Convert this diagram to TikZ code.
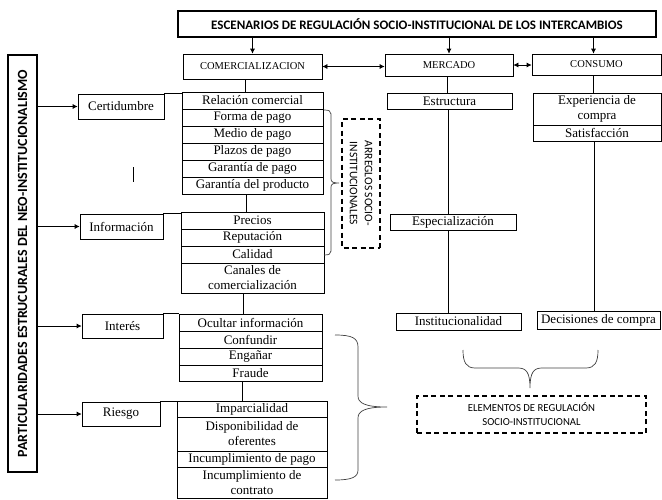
\documentclass[tikz,border=0pt]{standalone}
\usepackage{fontspec}
\setmainfont{Liberation Serif}
\newfontfamily\calibri{Carlito}
\usetikzlibrary{arrows.meta}

\tikzset{
  cell/.style={draw,inner sep=0pt,align=center,font=\fontsize{13}{15}\selectfont},
  stage/.style={draw,inner sep=0pt,font=\fontsize{10.5}{12}\selectfont},
  frame/.style={draw,line width=1.4pt,inner sep=0pt,font=\calibri\bfseries},
  dashbox/.style={draw,line width=1.4pt,dash pattern=on 5pt off 3.5pt,inner sep=0pt,align=center},
  brc/.style={draw=black!75}
}

\begin{document}
\begin{tikzpicture}[x=1pt,y=-1pt,line width=0.7pt,>={Latex[length=5pt,width=5pt]}]

        \useasboundingbox (0,0) rectangle (662,499);

        \begin{scope}[every node/.style={frame}]
          \node[minimum width=478pt,minimum height=26pt,font=\calibri\bfseries\fontsize{13}{15}\selectfont] (esc) at (417,24) {ESCENARIOS DE REGULACIÓN SOCIO-INSTITUCIONAL DE LOS INTERCAMBIOS};
          \node[rotate=90,minimum width=417pt,minimum height=29pt,font=\calibri\bfseries\fontsize{14}{16}\selectfont] (par) at (22.5,263.5) {PARTICULARIDADES ESTRUCURALES DEL NEO-INSTITUCIONALISMO};
        \end{scope}

        \begin{scope}[every node/.style={stage}]
          \node[minimum width=139pt,minimum height=25pt] (com) at (252.5,66.5) {COMERCIALIZACION};
          \node[minimum width=128pt,minimum height=22pt] (mer) at (449,65)     {MERCADO};
          \node[minimum width=129pt,minimum height=21pt] (con) at (596.5,64.5) {CONSUMO};
        \end{scope}

        \begin{scope}[every node/.style={cell}]
          \node[minimum width=86pt,minimum height=25pt] (cer) at (121,106.5)   {Certidumbre};
          \node[minimum width=83pt,minimum height=25pt] (inf) at (121.5,226.5) {Información};
          \node[minimum width=81pt,minimum height=24pt] (int) at (122.5,326)   {Interés};
          \node[minimum width=78pt,minimum height=24pt] (rie) at (121,414)     {Riesgo};
        \end{scope}

        % comercializacion
        \begin{scope}[every node/.style={cell,minimum width=141pt,minimum height=17pt}]
          \node (rel) at (252.5,100.5) {Relación comercial};
          \node (fpa) at (252.5,117.5) {Forma de pago};
          \node (mpa) at (252.5,134.5) {Medio de pago};
          \node (ppa) at (252.5,151.5) {Plazos de pago};
          \node (gpa) at (252.5,168.5) {Garantía de pago};
          \node (gpr) at (252.5,185.5) {Garantía del producto};
        \end{scope}
        \begin{scope}[every node/.style={cell,minimum width=143pt,minimum height=17pt}]
          \node (pre) at (252.5,220.5) {Precios};
          \node (rep) at (252.5,237.5) {Reputación};
          \node (cal) at (252.5,254.5) {Calidad};
          \node[minimum height=30pt] (can) at (252.5,278) {Canales de\\comercialización};
          \node (ocu) at (250.5,322.5) {Ocultar información};
          \node (cnf) at (250.5,339.5) {Confundir};
          \node (eng) at (250.5,356.5) {Engañar};
          \node[minimum height=16pt] (fra) at (250.5,373) {Fraude};
        \end{scope}
        \begin{scope}[every node/.style={cell,minimum width=150pt,minimum height=16pt}]
          \node (imp) at (252,409) {Imparcialidad};
          \node[minimum height=34pt] (dis) at (252,434) {Disponibilidad de\\oferentes};
          \node (icp) at (252,459) {Incumplimiento de pago};
          \node[minimum height=31pt] (icc) at (252,482.5) {Incumplimiento de\\contrato};
        \end{scope}

        % mercado y consumo
        \begin{scope}[every node/.style={cell,minimum height=16pt}]
          \node[minimum width=125pt] (est) at (449.5,101) {Estructura};
          \node[minimum width=126pt] (esp) at (453,222)   {Especialización};
          \node[minimum width=125pt,minimum height=17pt] (ins) at (458.5,321.5) {Institucionalidad};
          \node[minimum width=128pt,minimum height=32pt] (exp) at (597,109) {Experiencia de\\compra};
          \node[minimum width=128pt] (sat) at (597,133) {Satisfacción};
          \node[minimum width=123pt,minimum height=18pt] (dec) at (598.5,320) {Decisiones de compra};
        \end{scope}

        \node[dashbox,rotate=-90,minimum width=129pt,minimum height=38pt,font=\calibri\fontsize{11.5}{15}\selectfont] (arr) at (361,183.5) {ARREGLOS SOCIO-\\INSTITUCIONALES};
        \node[dashbox,minimum width=229pt,minimum height=37pt,font=\calibri\fontsize{10.7}{14}\selectfont] (ele) at (531.5,414.5) {ELEMENTOS DE REGULACIÓN\\SOCIO-INSTITUCIONAL};

        \draw[->] (esc.south -| com.north) -- (com.north);
        \draw[->] (esc.south -| mer.north) -- (mer.north);
        \draw[->] ([xshift=-3pt]esc.south -| con.north) -- ([xshift=-3pt]con.north);
        \draw[<->] (com.east) -- (com.east -| mer.west);
        \draw[<->] (mer.east) -- (mer.east -| con.west);

        \foreach \n in {cer,inf,int,rie}
          \draw[->] (par.south |- \n.west) -- (\n.west);

        \draw (cer.north east) -- (cer.north east -| rel.west);
        \draw (inf.north east) -- (inf.north east -| pre.west);
        \draw (int.north east) -- (int.north east -| ocu.west);
        \draw (rie.north east) -- (rie.north east -| imp.west);

        \draw ([xshift=-7pt]com.south) -- ([xshift=-7pt]com.south |- rel.north);
        \draw ([xshift=-6pt]gpr.south) -- ([xshift=-6pt]gpr.south |- pre.north);
        \draw ([xshift=-9pt]can.south) -- ([xshift=-9pt]can.south |- ocu.north);
        \draw ([xshift=-8pt]fra.south) -- ([xshift=-8pt]fra.south |- imp.north);
        \draw ([xshift=-2pt]mer.south) -- ([xshift=-2pt]mer.south |- est.north);
        \draw (est.south -| 448,0) -- (esp.north -| 448,0);
        \draw (esp.south -| 448,0) -- (ins.north -| 448,0);
        \draw ([xshift=-3pt]con.south) -- ([xshift=-3pt]con.south |- exp.north);
        \draw ([xshift=-3pt]sat.south) -- ([xshift=-3pt]sat.south |- dec.north);

        \draw (133,167) -- (133,182);

        % llaves
        \draw[brc] (324,110) .. controls (329,110) and (331,111) .. (331,114) -- (331,179)
          .. controls (331,182) and (333,183) .. (339,183)
          .. controls (333,183) and (331,184) .. (331,187) -- (331,251)
          .. controls (331,254) and (329,255) .. (324,255);
        \draw[brc] (335,335) .. controls (352,335) and (358,338) .. (358,347) -- (358,396)
          .. controls (358,403) and (365,407) .. (387,407)
          .. controls (365,407) and (358,411) .. (358,418) -- (358,470)
          .. controls (358,477) and (352,480) .. (335,480);
        \draw[brc] (463,350) .. controls (463,362) and (466,368) .. (475,368) -- (518,368)
          .. controls (526,368) and (530,372) .. (530,388)
          .. controls (530,372) and (534,368) .. (542,368) -- (586,368)
          .. controls (595,368) and (598,362) .. (598,350);

      \end{tikzpicture}
\end{document}
